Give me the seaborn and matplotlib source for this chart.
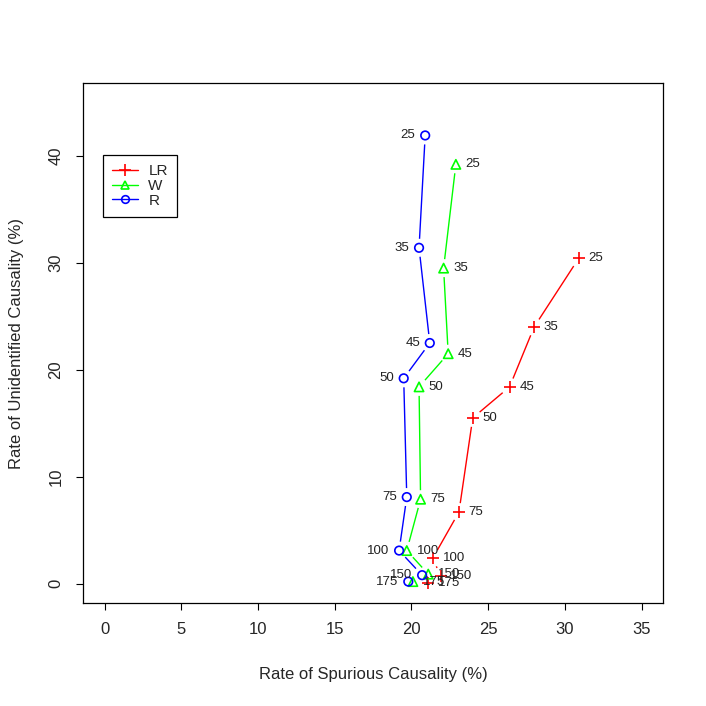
import numpy as np
import pandas as pd
import matplotlib
matplotlib.use("Agg")
import matplotlib.pyplot as plt
import seaborn as sns
from matplotlib.lines import Line2D

# sample sizes (point labels)
sizes = [25, 35, 45, 50, 75, 100, 150, 175]

# Rate of spurious causality (%) per test
lr_x = [30.9, 28.0, 26.4, 24.0, 23.1, 21.4, 21.9, 21.1]
w_x = [22.9, 22.1, 22.4, 20.5, 20.6, 19.7, 21.1, 20.1]
r_x = [20.9, 20.5, 21.2, 19.5, 19.7, 19.2, 20.7, 19.8]

# Rate of unidentified causality (%) per test
lr_y = [30.4, 24.0, 18.4, 15.5, 6.7, 2.4, 0.7, 0.1]
w_y = [39.2, 29.5, 21.5, 18.4, 7.9, 3.1, 0.9, 0.2]
r_y = [41.9, 31.4, 22.5, 19.2, 8.1, 3.1, 0.8, 0.2]

series_names = ["LR", "W", "R"]
colors = {"LR": "#ff0000", "W": "#00ff00", "R": "#0000ff"}
markers = {"LR": "+", "W": "^", "R": "o"}
label_side = {"LR": "right", "W": "right", "R": "left"}

df = pd.concat([
    pd.DataFrame({"test": "LR", "n": sizes, "x": lr_x, "y": lr_y}),
    pd.DataFrame({"test": "W", "n": sizes, "x": w_x, "y": w_y}),
    pd.DataFrame({"test": "R", "n": sizes, "x": r_x, "y": r_y}),
], ignore_index=True)

sns.set_style("white")
plt.rcParams["font.family"] = ["Liberation Sans", "DejaVu Sans"]

fig = plt.figure(figsize=(7.06, 7.06), dpi=100)
ax = fig.add_axes([0.1176, 0.1459, 0.8215, 0.7365])
ax.set_xlim(-1.4, 36.4)
ax.set_ylim(-1.8, 46.8)

# lines with gaps around the points (R type = "b")
gap = 9.0
for name in series_names:
    sub = df[df["test"] == name]
    pts = ax.transData.transform(np.column_stack([sub["x"], sub["y"]]))
    for p0, p1 in zip(pts[:-1], pts[1:]):
        d = p1 - p0
        L = np.hypot(*d)
        if L <= 2 * gap:
            continue
        u = d / L
        seg = ax.transData.inverted().transform(np.array([p0 + u * gap, p1 - u * gap]))
        ax.plot(seg[:, 0], seg[:, 1], color=colors[name], lw=1.0, solid_capstyle="butt")

# markers
for name in series_names:
    sub = df[df["test"] == name]
    if markers[name] == "+":
        sns.scatterplot(data=sub, x="x", y="y", marker="+", color=colors[name],
                        s=75, linewidth=1.2, ax=ax, legend=False, zorder=3)
    else:
        sns.scatterplot(data=sub, x="x", y="y", marker=markers[name],
                        s=38 if markers[name] == "o" else 45,
                        facecolor="none", edgecolor=colors[name], linewidth=1.2,
                        ax=ax, legend=False, zorder=3)
    for _, row in sub.iterrows():
        if label_side[name] == "right":
            ax.annotate(str(row["n"]), (row["x"], row["y"]), xytext=(7, 0),
                        textcoords="offset points", ha="left", va="center",
                        fontsize=9.5, color="#222222")
        else:
            ax.annotate(str(row["n"]), (row["x"], row["y"]), xytext=(-7, 0),
                        textcoords="offset points", ha="right", va="center",
                        fontsize=9.5, color="#222222")

ax.set_xticks(np.arange(0, 36, 5))
ax.set_yticks(np.arange(0, 41, 10))
ax.tick_params(direction="out", length=5, width=0.8, labelsize=12, pad=9,
               bottom=True, left=True, color="black")
for lab in ax.get_yticklabels():
    lab.set_rotation(90)
    lab.set_va("center")
for sp in ax.spines.values():
    sp.set_color("black")
    sp.set_linewidth(0.9)

ax.set_xlabel("Rate of Spurious Causality (%)", fontsize=12, labelpad=21)
ax.set_ylabel("Rate of Unidentified Causality (%)", fontsize=12, labelpad=18)

handles = [Line2D([0], [0], color=colors[n], lw=1.0, marker=markers[n],
                  markerfacecolor="none", markeredgecolor=colors[n],
                  markersize=8 if n == "LR" else 5.5, markeredgewidth=1.2)
           for n in series_names]
leg = ax.legend(handles, series_names, loc="upper left",
                bbox_to_anchor=(0.035, 0.8615), fancybox=False, framealpha=1,
                edgecolor="black", fontsize=11, handlelength=1.65,
                borderpad=0.6, labelspacing=0.05, handletextpad=0.7,
                borderaxespad=0)
leg.get_frame().set_linewidth(0.9)

fig.savefig("out.png", dpi=100)
